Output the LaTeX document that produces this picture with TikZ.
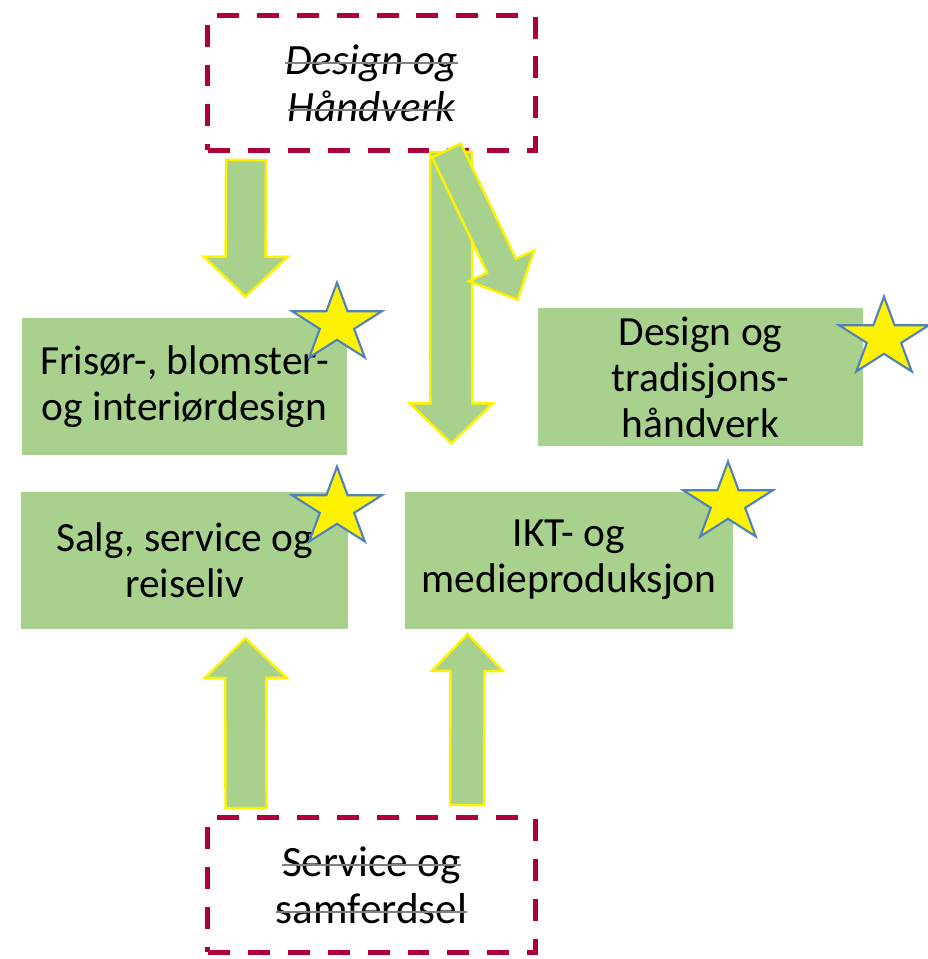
\documentclass[tikz,border=0pt]{standalone}
\usepackage{fontspec}
\setmainfont{Carlito}
\usetikzlibrary{positioning,shapes.geometric,calc}

\definecolor{boxgreen}{RGB}{169,209,142}
\definecolor{oldred}{RGB}{176,0,58}
\definecolor{starblue}{RGB}{79,129,189}

% struck-out text, gray line over black letters
\newlength{\oldwd}
\newcommand{\oldtext}[1]{\settowidth{\oldwd}{#1}\rlap{#1}{\color{gray}\rule[0.5ex]{\oldwd}{1.1pt}}}

% block arrow: tail, tip, half shaft width, half head width, head length
\newcommand{\bigarrow}[5]{%
  \coordinate (h) at ($(#2)!#5!(#1)$);
  \draw[arrowbody] ($(#1)!#3!90:(#2)$) -- ($(h)!#3!90:(#2)$) -- ($(h)!#4!90:(#2)$) -- (#2)
    -- ($(h)!#4!-90:(#2)$) -- ($(h)!#3!-90:(#2)$) -- ($(#1)!#3!-90:(#2)$) -- cycle;
}

\begin{document}
\begin{tikzpicture}[
  x=0.02cm, y=-0.02cm,
  area/.style={fill=boxgreen, inner sep=0, align=center, minimum width=6.5cm,
    minimum height=2.74cm, font=\fontsize{23.6}{26.2}\selectfont},
  oldarea/.style={draw=oldred, line width=0.1cm, dash pattern=on 0.44cm off 0.36cm,
    minimum width=6.56cm, minimum height=2.7cm, align=center,
    font=\fontsize{24.6}{26.8}\selectfont},
  arrowbody/.style={fill=boxgreen, draw=yellow, line width=1.4pt},
  award/.style={star, star points=5, star point ratio=2.618, minimum size=1.89cm,
    inner sep=0, fill=yellow, draw=starblue, line width=1.2pt, yscale=0.876}
]
\useasboundingbox (0,0) rectangle (928,959);

\node[oldarea, font=\fontsize{24.6}{26.8}\selectfont\itshape] (olddesign) at (371.5,83)
  {\oldtext{Design og}\\\oldtext{Håndverk}};
\node[oldarea] (oldservice) at (371.5,885) {\oldtext{Service og}\\\oldtext{samferdsel}};

\node[area] (frisor) at (184.5,386.5) {Frisør-, blomster-\\og interiørdesign};
\node[area, minimum width=6.56cm, below=0.72cm of frisor] (salg) {Salg, service og\\reiseliv};
\node[area, minimum width=6.56cm, right=1.12cm of salg] (ikt) {IKT- og\\medieproduksjon};
\node[area, minimum height=2.76cm] (tradisjon) at (700.5,377)
  {Design og\\tradisjons-\\håndverk};

\coordinate (a1) at ($(olddesign.south west)+(41,7)$);
\coordinate (a2) at ($(frisor.north)+(61,-21)$);
\coordinate (b1) at ($(olddesign.south)+(79.5,-1)$);
\coordinate (b2) at ($(ikt.north west)+(46.5,-48)$);
\coordinate (c1) at ($(olddesign.south)+(75,-2.5)$);
\coordinate (c2) at ($(tradisjon.north west)+(-20,-8)$);
\coordinate (d1) at ($(oldservice.north west)+(41,-7)$);
\coordinate (d2) at ($(salg.south)+(61,9)$);
\coordinate (e1) at ($(oldservice.north)+(95.5,-10)$);
\coordinate (e2) at ($(ikt.south)+(-101.5,5)$);

\bigarrow{a1}{a2}{0.4cm}{0.84cm}{0.8cm}
\bigarrow{b1}{b2}{0.42cm}{0.83cm}{0.8cm}
\bigarrow{c1}{c2}{0.32cm}{0.72cm}{0.75cm}
\bigarrow{d1}{d2}{0.41cm}{0.82cm}{0.8cm}
\bigarrow{e1}{e2}{0.34cm}{0.71cm}{0.74cm}

\node[award] (star1) at (337,324) {};
\node[award] (star2) at (884,338) {};
\node[award] (star3) at (337,508) {};
\node[award] (star4) at (728,503) {};

\end{tikzpicture}
\end{document}
